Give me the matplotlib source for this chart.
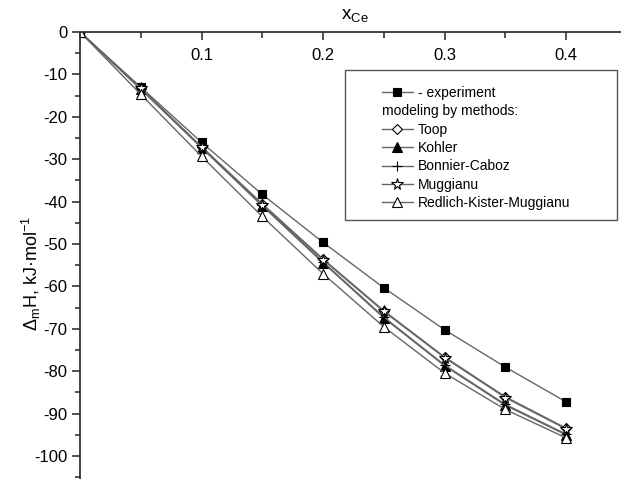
import matplotlib
matplotlib.use("Agg")
import matplotlib.pyplot as plt
from matplotlib.patches import Rectangle
from matplotlib.ticker import MultipleLocator

plt.rcParams["font.family"] = ["Liberation Sans", "DejaVu Sans"]
plt.rcParams["axes.unicode_minus"] = False
plt.rcParams["mathtext.fontset"] = "custom"
plt.rcParams["mathtext.rm"] = "Liberation Sans"
plt.rcParams["mathtext.it"] = "Liberation Sans:italic"
plt.rcParams["mathtext.default"] = "regular"

# ── Datos ─────────────────────────────────────────────────────────────────────
x_ce = [0.0, 0.05, 0.10, 0.15, 0.20, 0.25, 0.30, 0.35, 0.40]
experiment = [0, -13.0, -26.0, -38.3, -49.6, -60.3, -70.2, -79.0, -87.2]
toop = [0, -13.3, -27.0, -40.5, -53.5, -65.7, -76.6, -86.0, -93.4]
kohler = [0, -13.5, -27.3, -41.0, -54.4, -67.4, -78.7, -88.0, -95.0]
bonnier_caboz = [0, -13.4, -27.2, -40.8, -54.2, -67.2, -78.5, -87.8, -94.8]
muggianu = [0, -13.2, -27.2, -40.7, -53.7, -65.9, -76.8, -86.2, -93.6]
rkm = [0, -14.7, -29.3, -43.5, -57.0, -69.5, -80.4, -89.0, -95.7]

series = [
    (experiment, "s", "black", "- experiment"),
    (toop, "D", "white", "Toop"),
    (kohler, "^", "black", "Kohler"),
    (bonnier_caboz, "+", "black", "Bonnier-Caboz"),
    (muggianu, "*", "white", "Muggianu"),
    (rkm, "^", "white", "Redlich-Kister-Muggianu"),
]
MSIZE = {"s": 6, "D": 5, "^": 6.5, "+": 7, "*": 8.5}

fig = plt.figure(figsize=(6.21, 4.79), dpi=100)
ax = fig.add_axes([80 / 621, 0, 541 / 621, 447 / 479])

handles = []
for vals, mk, fc, lab in series:
    (h,) = ax.plot(
        x_ce, vals, color="#666666", linewidth=1.0,
        marker=mk, markersize=MSIZE[mk], markerfacecolor=fc,
        markeredgecolor="black", markeredgewidth=0.8, label=lab,
    )
    handles.append(h)

# fila de texto sin símbolo en la leyenda
blank, = ax.plot([], [], color="none", label="modeling by methods:")
handles.insert(1, blank)

ax.set_xlim(0, 541 / 1215)
ax.set_ylim(-105.4, 0)

for side in ("right", "bottom"):
    ax.spines[side].set_visible(False)
for side in ("left", "top"):
    ax.spines[side].set_color("#333333")
    ax.spines[side].set_linewidth(1.3)

ax.xaxis.set_minor_locator(MultipleLocator(0.05))
ax.yaxis.set_major_locator(MultipleLocator(10))
ax.yaxis.set_minor_locator(MultipleLocator(5))
ax.set_xticks([0.1, 0.2, 0.3, 0.4])
ax.set_xticklabels(["0.1", "0.2", "0.3", "0.4"])

ax.tick_params(axis="x", which="both", top=True, bottom=False,
               labeltop=True, labelbottom=False, direction="in",
               color="#333333", width=1.2)
ax.tick_params(axis="x", which="major", length=6, pad=-22, labelsize=12)
ax.tick_params(axis="x", which="minor", length=4)
ax.tick_params(axis="y", which="both", direction="out", color="#333333", width=1.2)
ax.tick_params(axis="y", which="major", length=6, labelsize=12, pad=3)
ax.tick_params(axis="y", which="minor", length=3.5)

ax.set_xlabel("x$_{Ce}$", fontsize=13.5)
ax.xaxis.set_label_position("top")
ax.xaxis.set_label_coords(0.508, 1.03)
ax.set_ylabel("$\\Delta_m$H, kJ·mol$^{-1}$", fontsize=13)
ax.yaxis.set_label_coords(-0.068, 0.46)

# marco de la leyenda (más ancho que su contenido, como en el original)
frame = Rectangle((0.490, 0.579), 0.503, 0.336, transform=ax.transAxes,
                  facecolor="white", edgecolor="#555555", linewidth=1.0,
                  zorder=4)
ax.add_patch(frame)

FS = 10
HL, HTP = 2.23, 0.36
leg = ax.legend(
    handles=handles, loc="upper left", bbox_to_anchor=(0.558, 0.880),
    fontsize=FS, frameon=False, handlelength=HL, handletextpad=HTP,
    labelspacing=0.32, borderpad=0, borderaxespad=0,
)
leg.set_zorder(5)

# desplazar "modeling by methods:" al inicio de los símbolos
shift = (HL + HTP) * FS * fig.dpi / 72
leg.get_texts()[1].set_x(-shift)

fig.savefig("out.png", dpi=100)
